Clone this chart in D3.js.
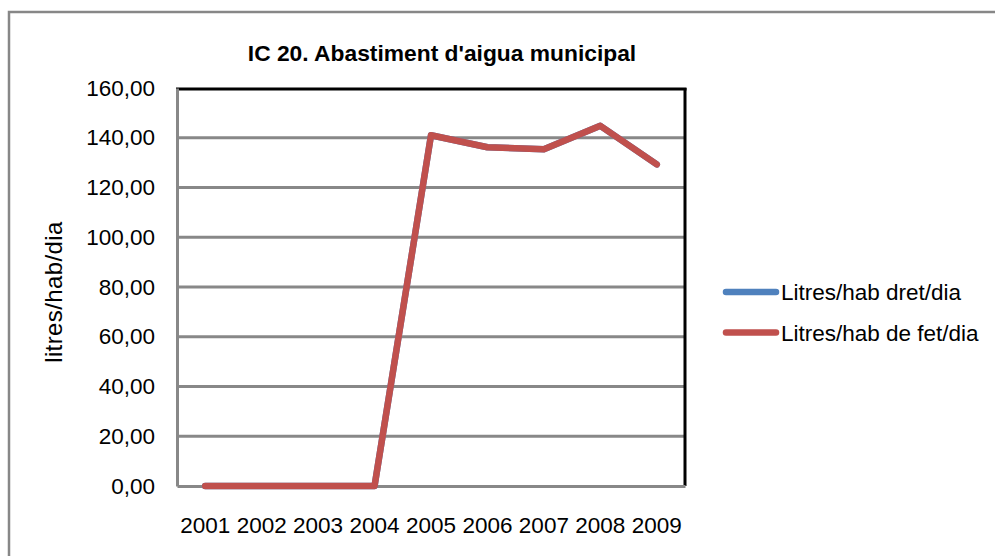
<!DOCTYPE html>
<html><head><meta charset="utf-8">
<script src="https://cdn.jsdelivr.net/npm/d3@7"></script>
<style>body{margin:0;background:#fff}svg{display:block;font-family:"Liberation Sans",Arial,sans-serif}</style>
</head><body><svg id="c" width="995" height="556"></svg>
<script>
const years = ["2001","2002","2003","2004","2005","2006","2007","2008","2009"];
const dretDia = [0, 0, 0, 0, 141.0, 136.2, 135.4, 144.8, 129.3];
const fetDia = [0, 0, 0, 0, 141.0, 136.2, 135.4, 144.8, 129.3];
const yTicks = [0, 20, 40, 60, 80, 100, 120, 140, 160];
const seriesNames = ["Litres/hab dret/dia", "Litres/hab de fet/dia"];
const colors = ["#4F81BD", "#C0504D"];

const svg = d3.select("#c");
const L = 177, T = 88, R = 685, B = 486;
const FF = "Liberation Sans, Arial, sans-serif";

svg.append("rect").attr("x", 9).attr("y", 12).attr("width", 1000).attr("height", 600)
  .attr("fill", "#fff").attr("stroke", "#878787").attr("stroke-width", 2.5);

const x = d3.scaleBand().domain(years).range([L, R]);
const y = d3.scaleLinear().domain([0, 160]).range([B, T]);

// gridlines
svg.append("g").selectAll("line").data(yTicks.filter(d => d > 0 && d < 160)).join("line")
  .attr("x1", L).attr("x2", R).attr("y1", d => y(d)).attr("y2", d => y(d))
  .attr("stroke", "#888888").attr("stroke-width", 3);

// plot border
svg.append("line").attr("x1", L - 1).attr("x2", R + 1.5).attr("y1", T + 1).attr("y2", T + 1).attr("stroke", "#000").attr("stroke-width", 3);
svg.append("line").attr("x1", R).attr("x2", R).attr("y1", T).attr("y2", B).attr("stroke", "#000").attr("stroke-width", 3);

// axes
const ya = svg.append("g").attr("transform", `translate(${L},0)`)
  .call(d3.axisLeft(y).tickValues(yTicks).tickSize(0).tickPadding(22).tickFormat(d => d3.format(".2f")(d).replace(".", ",")));
ya.select(".domain").attr("stroke", "#888888").attr("stroke-width", 3);
ya.selectAll("text").attr("font-size", 22.5).attr("fill", "#000").attr("font-family", FF);

const xa = svg.append("g").attr("transform", `translate(0,${B})`)
  .call(d3.axisBottom(x).tickSize(0).tickPadding(31));
xa.select(".domain").attr("stroke", "#888888").attr("stroke-width", 3);
xa.selectAll("text").attr("font-size", 22.5).attr("fill", "#000").attr("font-family", FF);

const line = d3.line().x((d, i) => x(years[i]) + x.bandwidth() / 2).y(d => y(d));
[dretDia, fetDia].forEach((s, i) => {
  svg.append("path").datum(s).attr("d", line).attr("fill", "none")
    .attr("stroke", colors[i]).attr("stroke-width", 6.5).attr("stroke-linejoin", "round").attr("stroke-linecap", "round");
});

// title
svg.append("text").attr("x", 442).attr("y", 61).attr("text-anchor", "middle")
  .attr("font-size", 22.8).attr("font-weight", "bold").text("IC 20. Abastiment d'aigua municipal");

// y title
svg.append("text").attr("transform", "translate(62,292) rotate(-90)").attr("text-anchor", "middle")
  .attr("font-size", 24).attr("letter-spacing", 0.4).text("litres/hab/dia");

// legend
const lg = svg.append("g");
seriesNames.forEach((n, i) => {
  const yy = 292 + i * 40.5;
  lg.append("line").attr("x1", 726).attr("x2", 776).attr("y1", yy).attr("y2", yy)
    .attr("stroke", colors[i]).attr("stroke-width", 6.5).attr("stroke-linecap", "round");
  lg.append("text").attr("x", 781).attr("y", yy + 8).attr("font-size", 22.5).text(n);
});
</script></body></html>
